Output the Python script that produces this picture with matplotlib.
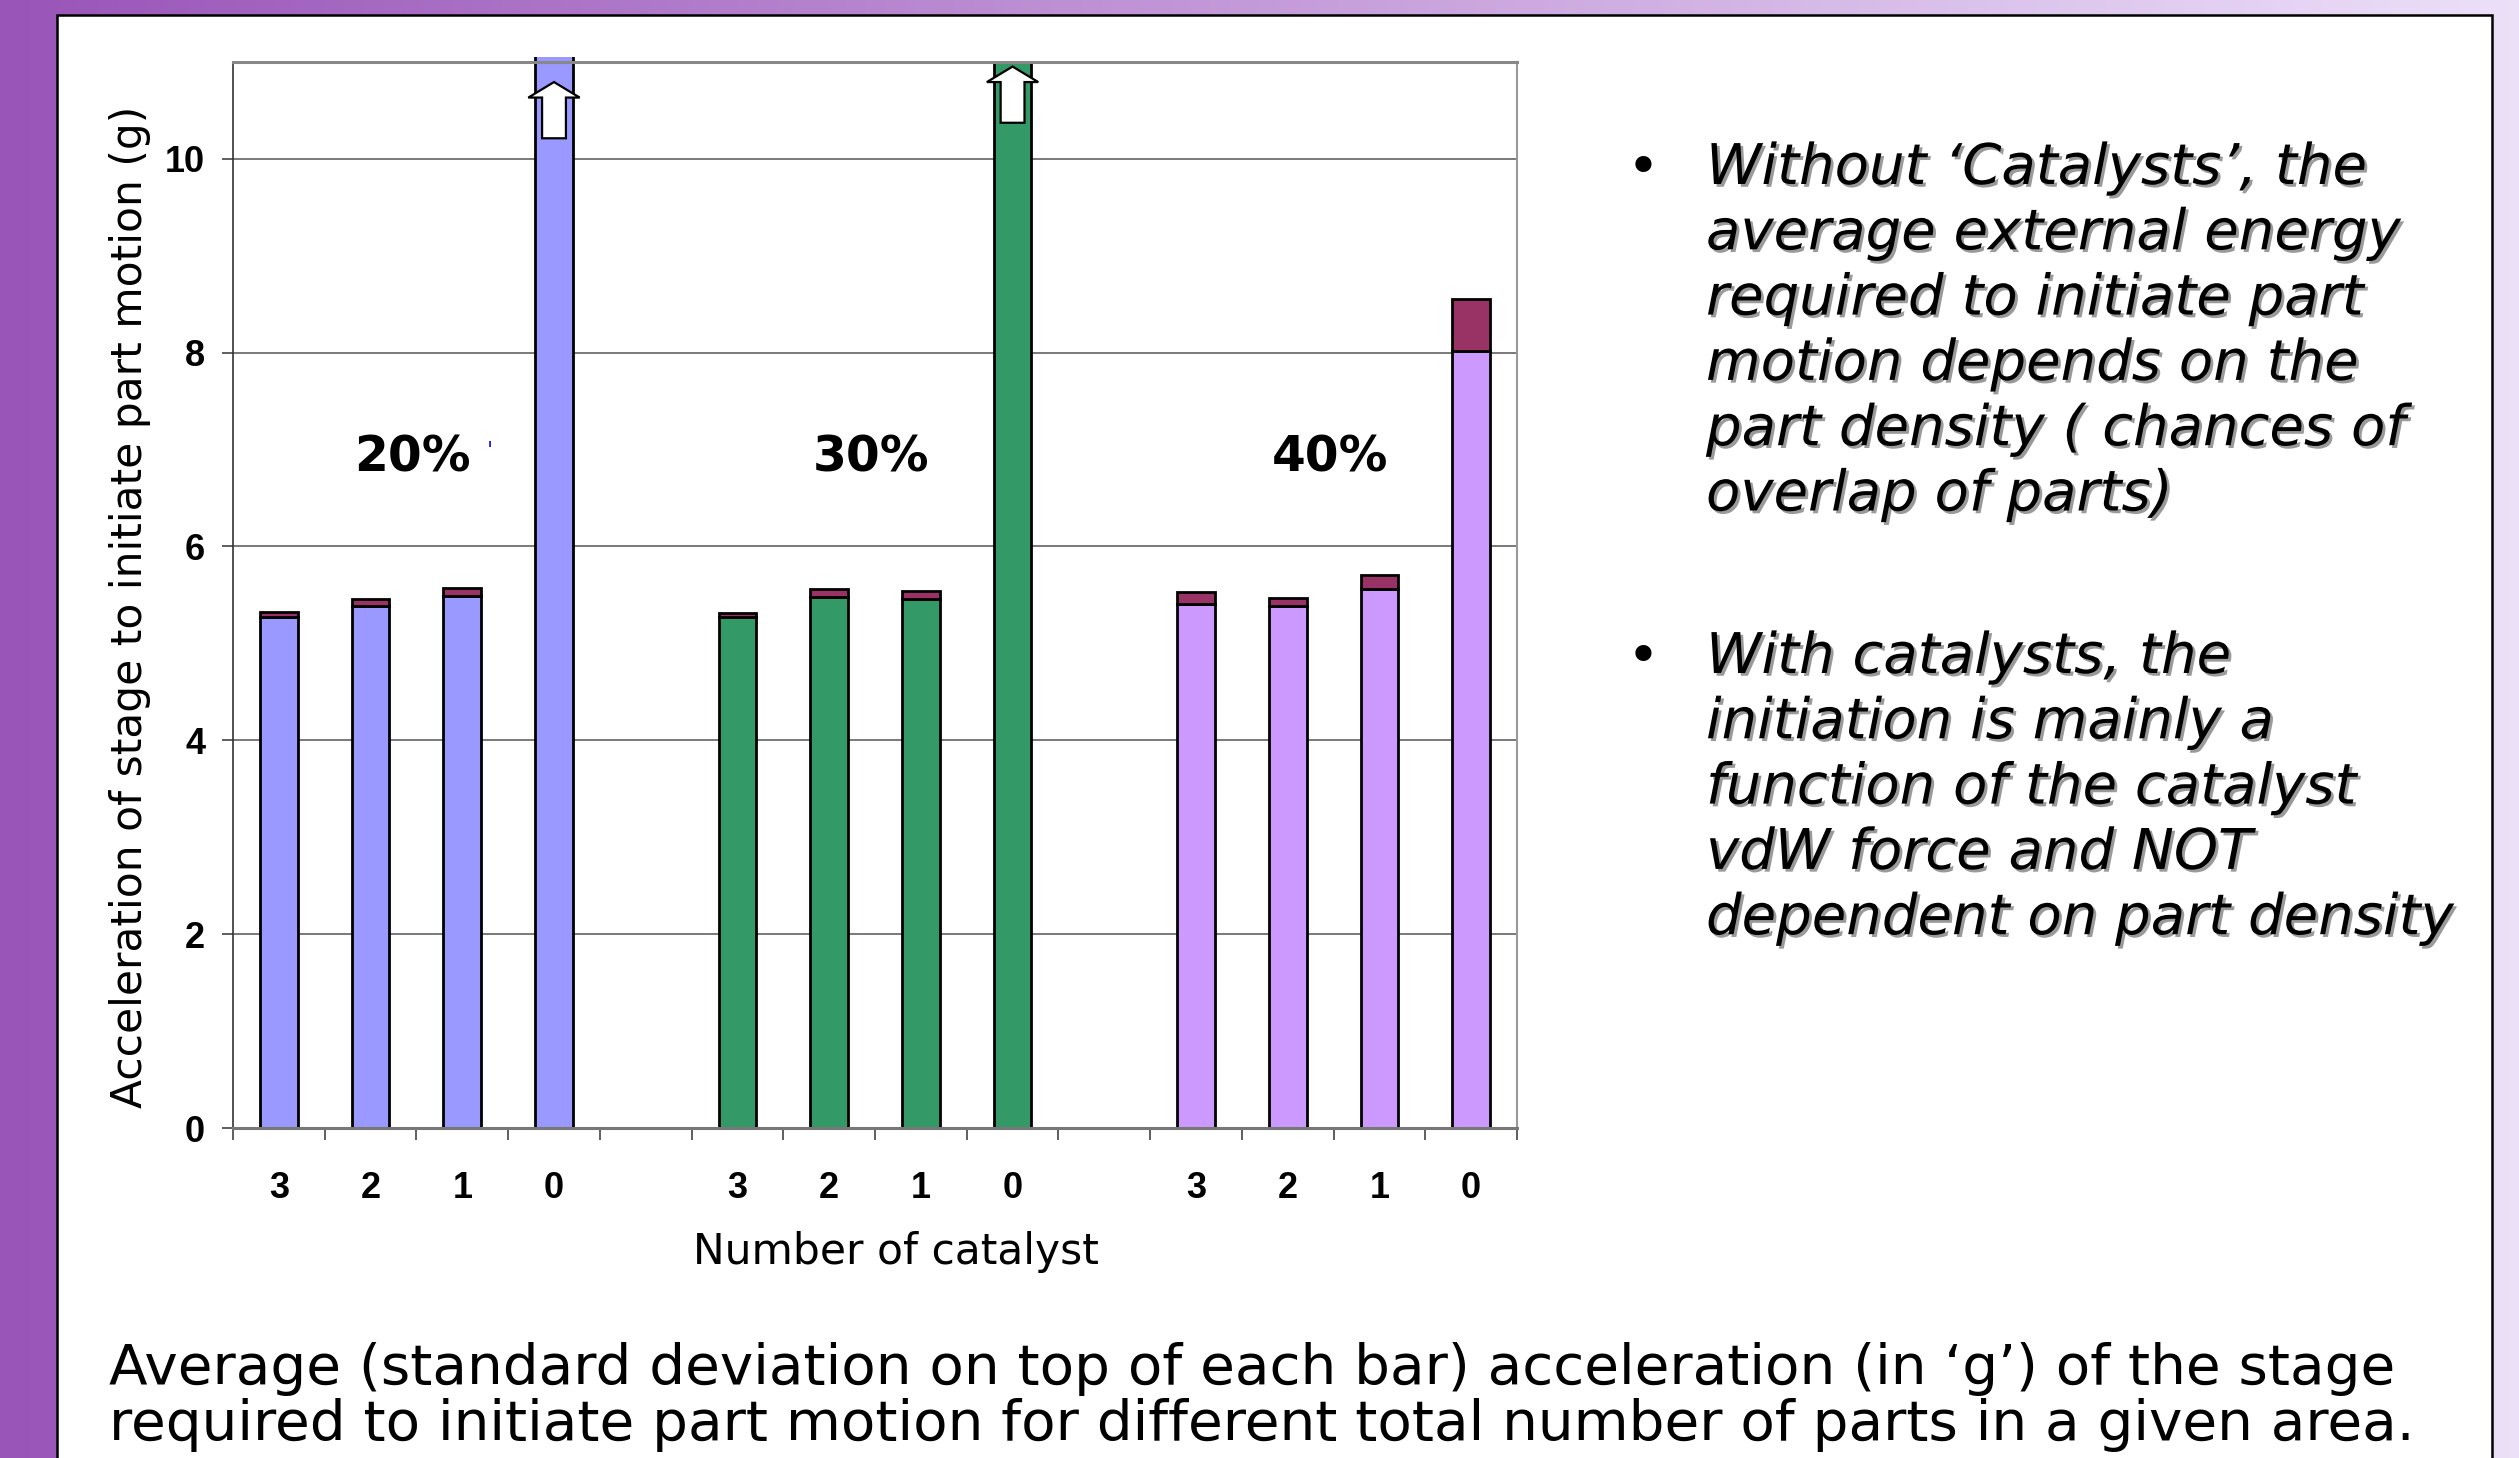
import numpy as np
import matplotlib
matplotlib.use("Agg")
import matplotlib.pyplot as plt
import matplotlib.patheffects as pe
from matplotlib.patches import Rectangle, Polygon
from matplotlib.colors import LinearSegmentedColormap

W, H = 2519, 1458

# mean acceleration (g) and its standard deviation, by number of catalysts
groups = ["20%", "30%", "40%"]
catalysts = ["3", "2", "1", "0"]
mean_20 = [5.27, 5.38, 5.49, 14.0]   # last bar runs off the scale
sd_20 = [0.05, 0.08, 0.08, 0.0]
mean_30 = [5.27, 5.48, 5.46, 11.0]
sd_30 = [0.045, 0.08, 0.08, 0.0]
mean_40 = [5.41, 5.39, 5.56, 8.02]
sd_40 = [0.115, 0.08, 0.14, 0.53]

group_colors = ["#9999FF", "#339966", "#CC99FF"]
sd_color = "#993366"
arrow_tips = {3: 10.79, 8: 10.95}   # slot -> arrow tip for off-scale bars

bullet_1 = ["Without \u2018Catalysts\u2019, the",
            "average external energy",
            "required to initiate part",
            "motion depends on the",
            "part density ( chances of",
            "overlap of parts)"]
bullet_2 = ["With catalysts, the",
            "initiation is mainly a",
            "function of the catalyst",
            "vdW force and NOT",
            "dependent on part density"]
caption = ["Average (standard deviation on top of each bar) acceleration (in \u2018g\u2019) of the stage",
           "required to initiate part motion for different total number of parts in a given area."]


def fx(px):
    return px / W


def fy(py):
    return 1 - py / H


fig = plt.figure(figsize=(W / 100, H / 100), dpi=100)

# slide background: purple gradient with a white content panel
bg = fig.add_axes([0, 0, 1, 1], zorder=-5)
cmap = LinearSegmentedColormap.from_list("slide", ["#9955B8", "#C49BD9", "#ECE0F9"])
bg.imshow(np.linspace(0, 1, 512)[None, :], cmap=cmap, aspect="auto", extent=[0, 1, 0, 1])
bg.axis("off")
panel = Rectangle((fx(57), -0.05), fx(2492) - fx(57), fy(15) + 0.05,
                  transform=fig.transFigure, facecolor="white",
                  edgecolor="black", lw=1.8, zorder=-4)
fig.add_artist(panel)

ax = fig.add_axes([fx(233), fy(1128), fx(1517) - fx(233), fy(61.7) - fy(1128)])
ax.set_xlim(-0.5, 13.5)
ax.set_ylim(0, 11)
ax.set_facecolor("white")
ax.set_axisbelow(True)
ax.yaxis.grid(True, color="#555555", lw=1.1)

clip = Rectangle((-0.5, -0.5), 14, 11.55, transform=ax.transData)

means = [mean_20, mean_30, mean_40]
sds = [sd_20, sd_30, sd_40]
slots = []
for g in range(3):
    x = [g * 5 + i for i in range(4)]
    slots += x
    bars = ax.bar(x, means[g], width=0.41, color=group_colors[g],
                  edgecolor="black", lw=2.0, zorder=2)
    tops = ax.bar(x, sds[g], bottom=means[g], width=0.41, color=sd_color,
                  edgecolor="black", lw=2.0, zorder=2)
    for p, s in zip(tops, sds[g]):
        if s == 0:
            p.set_visible(False)
    for p in list(bars) + list(tops):
        p.set_clip_path(clip)

# white block arrows on bars that exceed the axis
for slot, tip in arrow_tips.items():
    hw, sw = 0.28, 0.13
    head, tail = tip - 0.16, tip - 0.58
    pts = [(slot, tip), (slot + hw, head), (slot + sw, head), (slot + sw, tail),
           (slot - sw, tail), (slot - sw, head), (slot - hw, head)]
    ax.add_patch(Polygon(pts, closed=True, facecolor="white",
                         edgecolor="black", lw=1.6, zorder=4))

for g, name in enumerate(groups):
    ax.text(g * 5 + 1.46, 6.92, name, ha="center", va="center",
            fontsize=35, fontweight="bold", family="DejaVu Sans", zorder=5)
ax.text(2.30, 6.98, "'", color="#2020FF", fontsize=16, ha="center", va="center")

ax.spines["left"].set_color("#333333")
ax.spines["left"].set_linewidth(1.2)
ax.spines["bottom"].set_color("#777777")
ax.spines["bottom"].set_linewidth(2.2)
ax.spines["top"].set_color("#888888")
ax.spines["top"].set_linewidth(2.2)
ax.spines["right"].set_color("#999999")
ax.spines["right"].set_linewidth(1.5)

ax.set_yticks(range(0, 11, 2))
ax.set_yticklabels([str(v) for v in range(0, 11, 2)],
                   fontsize=26, fontweight="bold", family="Liberation Sans")
ax.tick_params(axis="y", direction="out", length=8, width=1.1,
               color="#333333", pad=12)
ax.set_xticks(slots)
ax.set_xticklabels(catalysts * 3, fontsize=26, fontweight="bold",
                   family="Liberation Sans")
ax.set_xticks(np.arange(-0.5, 14, 1), minor=True)
ax.tick_params(axis="x", which="major", length=0, pad=31)
ax.tick_params(axis="x", which="minor", direction="out", length=8.5,
               width=1.1, color="#333333")

fig.text(fx(130), fy(607), "Acceleration of stage to initiate part motion (g)",
         rotation=90, ha="center", va="center", fontsize=30.5, family="DejaVu Sans")
fig.text(fx(896), fy(1252), "Number of catalyst", ha="center", va="center",
         fontsize=30.5, family="DejaVu Sans")

# bullet points with drop shadow
shadow = [pe.withSimplePatchShadow(offset=(2, -2), shadow_rgbFace="#9A9A9A", alpha=1.0)]
for lines, base, dot_y in [(bullet_1, 184, 170), (bullet_2, 673, 659)]:
    fig.text(fx(1643), fy(dot_y), "\u2022", ha="center", va="center",
             fontsize=40, family="DejaVu Sans")
    for k, line in enumerate(lines):
        fig.text(fx(1706), fy(base + k * 65.3), line, ha="left", va="baseline",
                 fontsize=40.4, style="italic", family="DejaVu Sans",
                 path_effects=shadow)

for k, line in enumerate(caption):
    fig.text(fx(109), fy(1384 + k * 56), line, ha="left", va="baseline",
             fontsize=40.6, family="DejaVu Sans")

fig.savefig("out.png", dpi=100)
